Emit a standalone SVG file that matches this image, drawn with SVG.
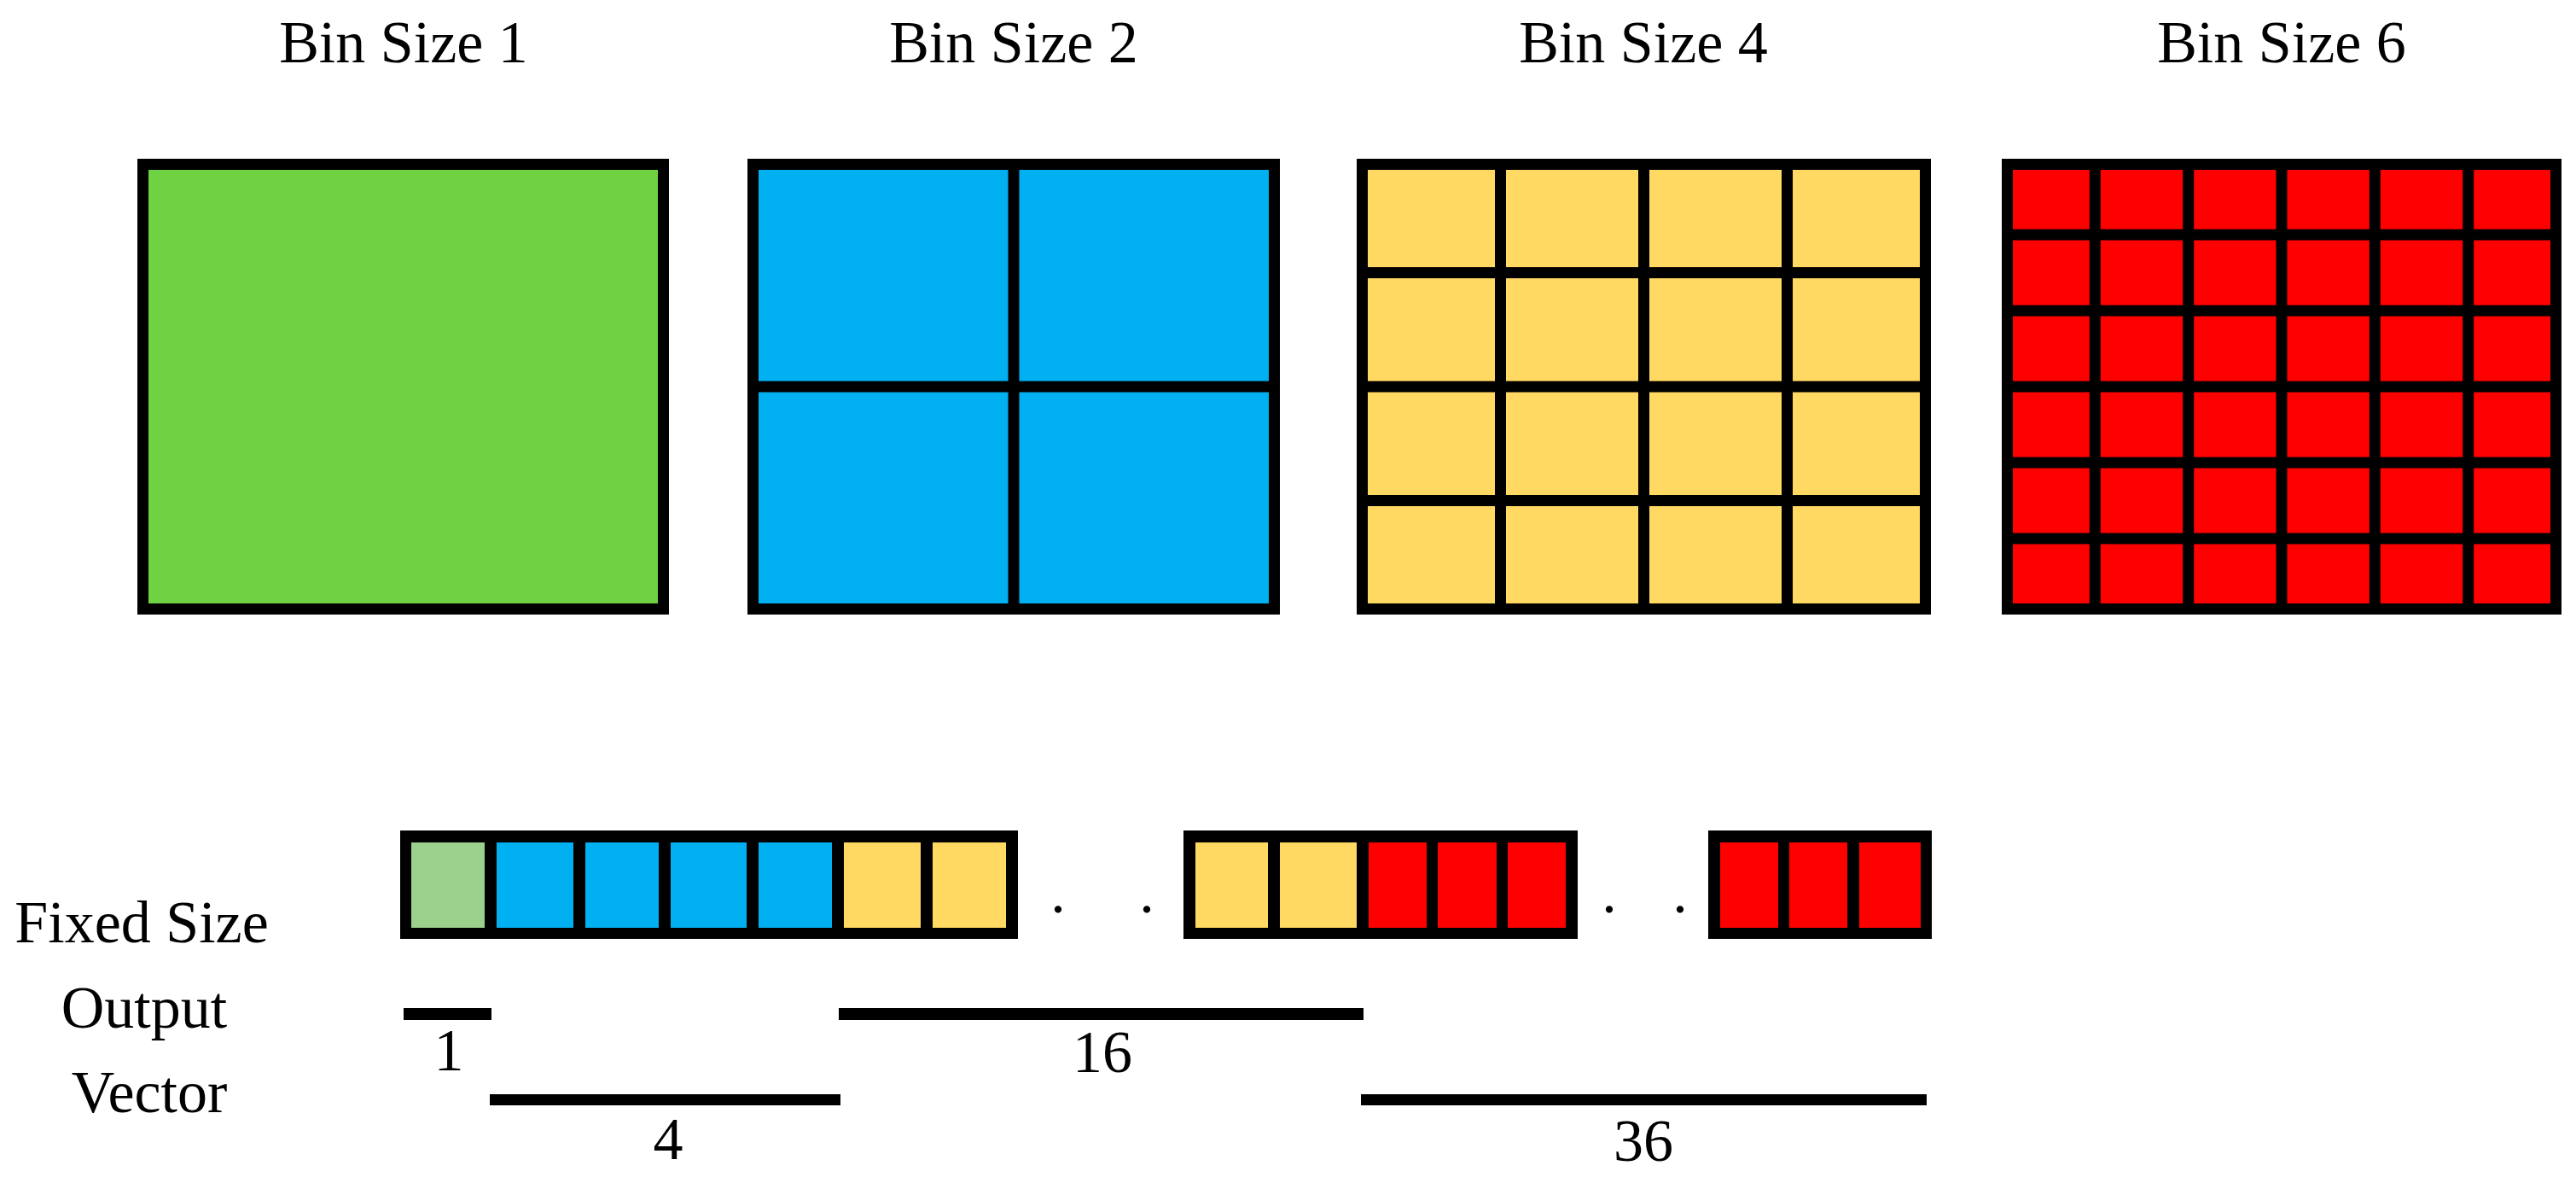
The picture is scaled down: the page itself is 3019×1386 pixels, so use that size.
<svg xmlns="http://www.w3.org/2000/svg" width="3019" height="1386" viewBox="0 0 3019 1386">
<style>
  .t { font-family: "Liberation Serif", "Times New Roman", serif; font-size: 70px; fill: #000; text-anchor: middle; }
  .frame { stroke: #000; stroke-width: 13; }
  .grid { stroke: #000; stroke-width: 13; fill: none; }
  .g1 { fill: #6FD243; }
  .g2 { fill: #9CD08D; }
  .b { fill: #00B0F0; }
  .y { fill: #FFD961; }
  .r { fill: #FF0000; }
  .bar { fill: #000; }
</style>
<rect width="3019" height="1386" fill="#fff"/>

<!-- Titles -->
<g id="titles">
  <text class="t" x="473" y="73">Bin Size 1</text>
  <text class="t" x="1188" y="73">Bin Size 2</text>
  <text class="t" x="1926" y="73">Bin Size 4</text>
  <text class="t" x="2674" y="73">Bin Size 6</text>
</g>

<!-- Bin Size 1 -->
<g id="bin1">
  <rect class="frame g1" x="167.5" y="192.5" width="610" height="521"/>
</g>

<!-- Bin Size 2 -->
<g id="bin2">
  <rect class="frame b" x="882.5" y="192.5" width="611" height="521"/>
  <path class="grid" d="M1188 192.5V713.5M882.5 453H1493.5"/>
</g>

<!-- Bin Size 4 -->
<g id="bin4">
  <rect class="frame y" x="1596.5" y="192.5" width="660" height="521"/>
  <path class="grid" d="M1758.5 192.5V713.5M1926.5 192.5V713.5M2094.5 192.5V713.5M1596.5 319.5H2256.5M1596.5 453H2256.5M1596.5 586.5H2256.5"/>
</g>

<!-- Bin Size 6 -->
<g id="bin6">
  <rect class="frame r" x="2352.5" y="192.5" width="643" height="521"/>
  <path class="grid" d="M2455.3 192.5V713.5M2564.7 192.5V713.5M2674 192.5V713.5M2783.3 192.5V713.5M2892.7 192.5V713.5M2352.5 275H2995.5M2352.5 364H2995.5M2352.5 453H2995.5M2352.5 542H2995.5M2352.5 631H2995.5"/>
</g>

<!-- Fixed size output vector -->
<g id="strip1">
  <rect x="469" y="973" width="724" height="127" fill="#000"/>
  <rect class="g2" x="482" y="987" width="86" height="100"/>
  <rect class="b" x="582" y="987" width="90" height="100"/>
  <rect class="b" x="686" y="987" width="86" height="100"/>
  <rect class="b" x="786" y="987" width="89" height="100"/>
  <rect class="b" x="889" y="987" width="86" height="100"/>
  <rect class="y" x="989" y="987" width="90" height="100"/>
  <rect class="y" x="1093" y="987" width="86" height="100"/>
</g>
<g id="strip2">
  <rect x="1387" y="973" width="462" height="127" fill="#000"/>
  <rect class="y" x="1401" y="987" width="85" height="100"/>
  <rect class="y" x="1500" y="987" width="90" height="100"/>
  <rect class="r" x="1604" y="987" width="68" height="100"/>
  <rect class="r" x="1685" y="987" width="69" height="100"/>
  <rect class="r" x="1767" y="987" width="68" height="100"/>
</g>
<g id="strip3">
  <rect x="2002" y="973" width="262" height="127" fill="#000"/>
  <rect class="r" x="2016" y="987" width="68" height="100"/>
  <rect class="r" x="2097" y="987" width="68" height="100"/>
  <rect class="r" x="2179" y="987" width="72" height="100"/>
</g>
<g id="ellipses">
  <text class="t" x="1240" y="1069">.</text>
  <text class="t" x="1344" y="1069">.</text>
  <text class="t" x="1886" y="1069">.</text>
  <text class="t" x="1969" y="1069">.</text>
</g>

<!-- Row labels -->
<g id="row-label">
  <text class="t" x="166" y="1104">Fixed Size</text>
  <text class="t" x="169" y="1204">Output</text>
  <text class="t" x="175" y="1303">Vector</text>
</g>

<!-- Span bars -->
<g id="connectors">
  <rect class="bar" x="473" y="1181" width="103" height="14"/>
  <rect class="bar" x="983" y="1181" width="615" height="14"/>
  <rect class="bar" x="574" y="1282" width="411" height="13"/>
  <rect class="bar" x="1595" y="1282" width="663" height="13"/>
</g>
<g id="span-labels">
  <text class="t" x="526" y="1254">1</text>
  <text class="t" x="1292" y="1256">16</text>
  <text class="t" x="783" y="1358">4</text>
  <text class="t" x="1926" y="1360">36</text>
</g>
</svg>
